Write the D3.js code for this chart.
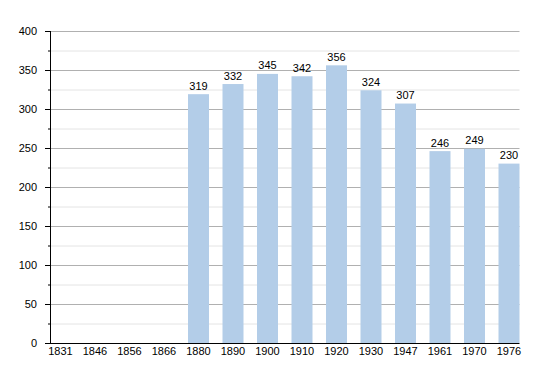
<!DOCTYPE html>
<html><head><meta charset="utf-8">
<script src="https://cdn.jsdelivr.net/npm/d3@7"></script>
<style>body{margin:0;background:#fff}svg{display:block}text{font-family:"Liberation Sans",Arial,sans-serif;font-size:11px;fill:#000}</style>
</head><body>
<script>
const years = ["1831","1846","1856","1866","1880","1890","1900","1910","1920","1930","1947","1961","1970","1976"];
const population = [null,null,null,null,319,332,345,342,356,324,307,246,249,230];
const yTicks = [0,50,100,150,200,250,300,350,400];
const yMinor = [25,75,125,175,225,275,325,375];

const W=550,H=373;
const svg=d3.select("body").append("svg").attr("width",W).attr("height",H);
const x=d3.scaleBand().domain(years).range([50,533]).padding(0);
const y=d3.scaleLinear().domain([0,400]).range([343,31]);
const bw=21;
const gridEnd=x(years[years.length-1])+bw;

svg.append("g").selectAll("line").data(yMinor).join("line")
 .attr("x1",50).attr("x2",gridEnd).attr("y1",d=>y(d)+0.5).attr("y2",d=>y(d)+0.5)
 .attr("stroke","#e4e4e4").attr("stroke-width",1);
svg.append("g").selectAll("line").data(yTicks.filter(d=>d>0)).join("line")
 .attr("x1",50).attr("x2",gridEnd).attr("y1",d=>y(d)+0.5).attr("y2",d=>y(d)+0.5)
 .attr("stroke","#b0b0b0").attr("stroke-width",1);

const data=years.map((yr,i)=>({yr,v:population[i]})).filter(d=>d.v!=null);
svg.append("g").selectAll("rect").data(data).join("rect")
 .attr("x",d=>x(d.yr)).attr("width",bw).attr("y",d=>y(d.v)).attr("height",d=>y(0)-y(d.v))
 .attr("fill","#b3cde8");
svg.append("g").selectAll("text").data(data).join("text")
 .attr("x",d=>x(d.yr)+bw/2).attr("y",d=>y(d.v)-4.5).attr("text-anchor","middle").text(d=>d.v);

// y axis
const ya=svg.append("g");
ya.append("line").attr("x1",50.5).attr("x2",50.5).attr("y1",y(400)).attr("y2",y(0)+1).attr("stroke","#000");
ya.selectAll(".mj").data(yTicks).join("line").attr("class","mj")
 .attr("x1",45).attr("x2",50).attr("y1",d=>y(d)+0.5).attr("y2",d=>y(d)+0.5).attr("stroke","#000");
ya.selectAll(".mn").data(yMinor).join("line").attr("class","mn")
 .attr("x1",48).attr("x2",50).attr("y1",d=>y(d)+0.5).attr("y2",d=>y(d)+0.5).attr("stroke","#000");
ya.selectAll("text").data(yTicks).join("text")
 .attr("x",37).attr("y",d=>y(d)+4).attr("text-anchor","end").text(d=>d);

// x axis
const xa=svg.append("g");
xa.append("line").attr("x1",50).attr("x2",gridEnd).attr("y1",343.5).attr("y2",343.5).attr("stroke","#000");
xa.selectAll("text").data(years).join("text")
 .attr("x",d=>x(d)+bw/2).attr("y",355).attr("text-anchor","middle").text(d=>d);
</script>
</body></html>
